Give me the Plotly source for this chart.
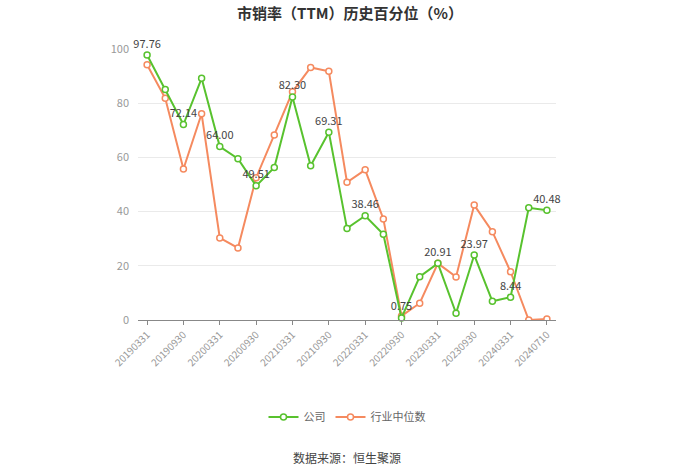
import plotly.graph_objects as go

# Données
dates = ['20190331', '20190630', '20190930', '20191231', '20200331', '20200630',
         '20200930', '20201231', '20210331', '20210630', '20210930', '20211231',
         '20220331', '20220630', '20220930', '20221231', '20230331', '20230630',
         '20230930', '20231231', '20240331', '20240630', '20240710']
societe = [97.76, 85.1, 72.14, 89.2, 64.00, 59.5, 49.51, 56.3, 82.30, 56.9, 69.31, 33.8,
           38.46, 31.6, 0.75, 16.0, 20.91, 2.5, 23.97, 6.9, 8.44, 41.4, 40.48]
mediane = [94.2, 81.8, 55.7, 76.1, 30.3, 26.6, 52.5, 68.3, 84.2, 93.2, 91.8, 50.8,
           55.4, 37.3, 1.5, 6.2, 20.9, 15.9, 42.4, 32.6, 17.8, 0.0, 0.4]

vert = '#58c22e'
orange = '#f58a5f'

# étiquettes une valeur sur deux
etiquettes = [f'{v:.2f}' if i % 2 == 0 else '' for i, v in enumerate(societe)]
ticks_x = [d for i, d in enumerate(dates) if i % 2 == 0]

fig = go.Figure()

fig.add_trace(go.Scatter(
    x=dates, y=mediane, name='行业中位数', mode='lines+markers',
    line=dict(color=orange, width=2),
    marker=dict(symbol='circle', size=6, color='white', line=dict(color=orange, width=1.5))
))
fig.add_trace(go.Scatter(
    x=dates, y=societe, name='公司', mode='lines+markers+text',
    text=etiquettes, textposition='top center', cliponaxis=False,
    textfont=dict(size=11, color='#444'),
    line=dict(color=vert, width=2),
    marker=dict(symbol='circle', size=6, color='white', line=dict(color=vert, width=1.5))
))

fig.update_layout(
    width=700, height=474,
    paper_bgcolor='white', plot_bgcolor='white',
    margin=dict(l=138, r=144, t=49, b=154),
    font=dict(family='Noto Sans CJK SC, sans-serif', color='#666'),
    title=dict(text='<b>市销率（TTM）历史百分位（%）</b>', x=0.5, xanchor='center',
               y=0.972, yanchor='middle', font=dict(size=15, color='#333')),
    showlegend=True,
    legend=dict(orientation='h', x=0.5, xanchor='center', y=-0.358, yanchor='middle',
                traceorder='reversed', font=dict(size=11, color='#666')),
    annotations=[dict(text='数据来源：恒生聚源', x=0.5, xref='paper', y=-0.506,
                      yref='paper', yanchor='middle', showarrow=False,
                      font=dict(size=12, color='#444'))]
)

fig.update_xaxes(
    type='category', tickvals=ticks_x, ticktext=ticks_x, tickangle=-45,
    range=[-0.5, len(dates) - 0.5], automargin=False,
    showline=True, linecolor='#888', linewidth=1,
    ticks='outside', ticklen=4, tickcolor='#888',
    showgrid=False, tickfont=dict(size=10, color='#999')
)
fig.update_yaxes(
    range=[0, 100], tickvals=[0, 20, 40, 60, 80, 100], automargin=False,
    showgrid=True, gridcolor='#eaeaea', zeroline=False, showline=False,
    tickfont=dict(size=11, color='#999'), ticks='', ticklabelstandoff=8
)

# enlever la marge par défaut de la page et la barre d'outils
fig.write_html('out.html', config={'displayModeBar': False},
               post_script="document.body.style.margin='0';")
